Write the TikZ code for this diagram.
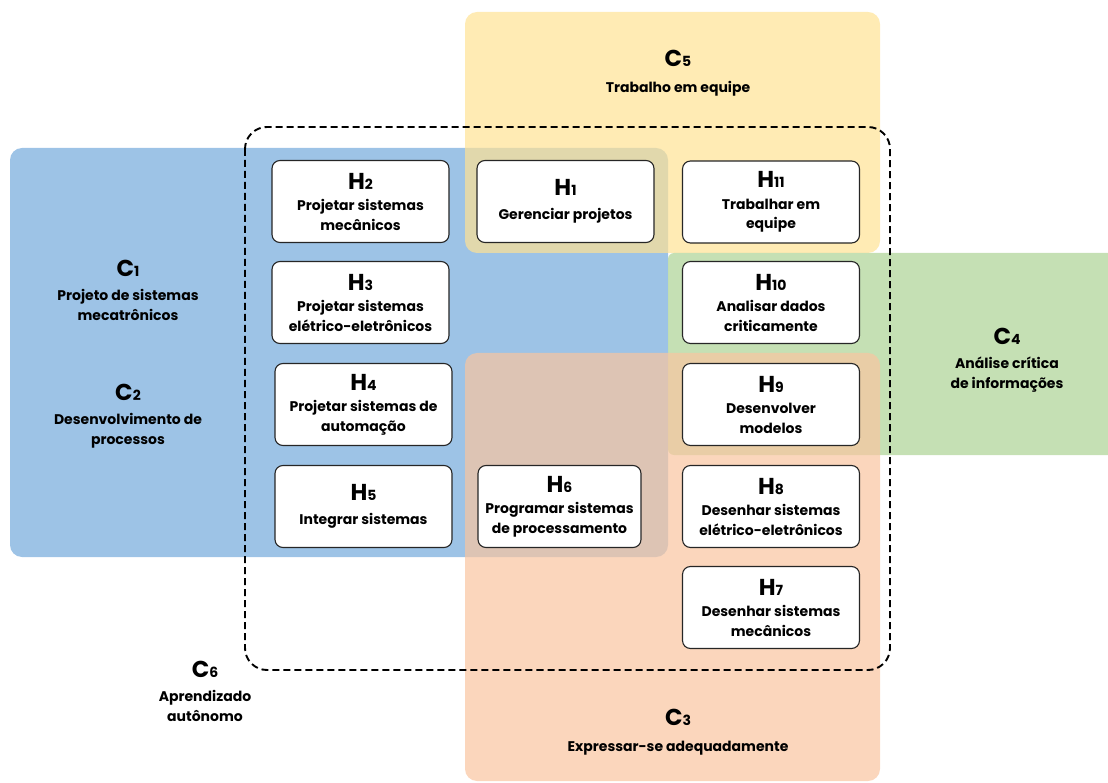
\documentclass[tikz,border=0pt]{standalone}
\usepackage{fontspec}
\setmainfont{Poppins}
\definecolor{cblue}{HTML}{9DC3E6}
\definecolor{cyellow}{HTML}{FFE294}
\definecolor{cgreen}{HTML}{ACD394}
\definecolor{corange}{HTML}{F9C5A0}
\newcommand\Hlab[1]{{\fontsize{23}{23}\selectfont H}{\fontsize{14}{14}\selectfont #1}}
\newcommand\Clab[1]{{\fontsize{23}{23}\selectfont C}{\fontsize{14}{14}\selectfont #1}}
\begin{document}
\begin{tikzpicture}[x=1pt,y=-1pt,
  hbox/.style={draw=black!85, line width=1.1pt, fill=white, rounded corners=8pt,
    minimum width=177pt, minimum height=82pt, align=center, inner sep=0pt,
    font=\bfseries\fontsize{14}{19.5}\selectfont},
  clab/.style={align=center, inner sep=0pt, font=\bfseries\fontsize{14}{19.5}\selectfont},
  region/.style={rounded corners=12pt},
]
\useasboundingbox (0,0) rectangle (1108,783);
% regions
\fill[region, cblue] (10,148) rectangle (668,557);
\fill[region, cyellow, fill opacity=0.7] (465,12) rectangle (880,253);
\fill[rounded corners=6pt, cgreen, fill opacity=0.7] (668,253) rectangle (1120,455);
\fill[region, corange, fill opacity=0.7] (465,353) rectangle (880,781);
% dashed C6 boundary
\draw[dash pattern=on 7pt off 4pt, line width=1.9pt, rounded corners=22pt] (245,127) rectangle (890,670);
% region labels
\node[clab] (c5) at (678,73) {\Clab{5}\\[6pt]Trabalho em equipe};
\node[clab] (c1) at (128,290) {\Clab{1}\\[5pt]Projeto de sistemas\\mecatrônicos};
\node[clab] (c2) at (128,416) {\Clab{2}\\[5pt]Desenvolvimento de\\processos};
\node[clab] (c4) at (1007,360) {\Clab{4}\\[5pt]Análise crítica\\de informações};
\node[clab] (c6) at (205,691) {\Clab{6}\\[5pt]Aprendizado\\autônomo};
\node[clab] (c3) at (678,732) {\Clab{3}\\[6pt]Expressar-se adequadamente};
% skill boxes
\node[hbox] (h2) at (360.5,201.5) {\Hlab{2}\\[2pt]Projetar sistemas\\mecânicos};
\node[hbox] (h1) at (565.5,201.5) {\Hlab{1}\\[5pt]Gerenciar projetos};
\node[hbox] (h11) at (771,202) {\Hlab{11}\\[2pt]Trabalhar em\\equipe};
\node[hbox] (h3) at (360.5,302.5) {\Hlab{3}\\[2pt]Projetar sistemas\\elétrico-eletrônicos};
\node[hbox] (h10) at (771,302.5) {\Hlab{10}\\[2pt]Analisar dados\\criticamente};
\node[hbox] (h4) at (363.5,404.5) {\Hlab{4}\\[2pt]Projetar sistemas de\\automação};
\node[hbox] (h9) at (771,404.5) {\Hlab{9}\\[2pt]Desenvolver\\modelos};
\node[hbox] (h5) at (363.5,506.5) {\Hlab{5}\\[5pt]Integrar sistemas};
\node[hbox, minimum width=163pt] (h6) at (559.5,506.5) {\Hlab{6}\\[2pt]Programar sistemas\\de processamento};
\node[hbox] (h8) at (771,506.5) {\Hlab{8}\\[2pt]Desenhar sistemas\\elétrico-eletrônicos};
\node[hbox] (h7) at (771,607.5) {\Hlab{7}\\[2pt]Desenhar sistemas\\mecânicos};
\end{tikzpicture}
\end{document}
